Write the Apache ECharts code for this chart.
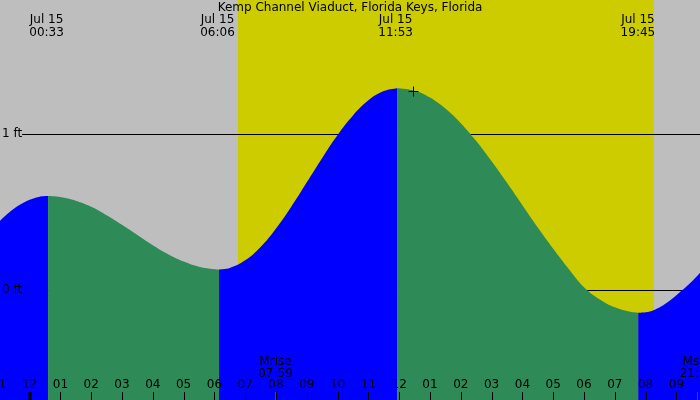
<!DOCTYPE html>
<html><head><meta charset="utf-8">
<script src="https://cdn.jsdelivr.net/npm/echarts@6/dist/echarts.min.js"></script>
<style>html,body{margin:0;padding:0;background:#BEBEBE}#c{width:700px;height:400px}</style>
</head><body><div id="c"></div>
<script>
// ---- data ----
const chartTitle = 'Kemp Channel Viaduct, Florida Keys, Florida';
const dateLabel = 'Jul 15';
const tideEventTimes = ['00:33', '06:06', '11:53', '19:45'];
const tideHours = [-0.961, -0.5, 0, 0.3, 0.6, 1, 1.5, 2, 2.5, 3, 3.5, 4, 4.5, 5, 5.5, 6, 6.15,
  6.5, 7, 7.5, 8, 8.5, 9, 9.5, 10, 10.5, 11, 11.5, 11.93,
  12.5, 13, 13.5, 14, 14.5, 15, 15.5, 16, 16.5, 17, 17.5, 18, 18.5, 19, 19.5, 19.76,
  20, 20.5, 21, 21.5, 21.766];
const tideFeet = [0.440, 0.519, 0.575, 0.594, 0.599, 0.593, 0.569, 0.530, 0.476, 0.415, 0.349, 0.284, 0.226, 0.179, 0.146, 0.130, 0.129,
  0.138, 0.187, 0.273, 0.392, 0.533, 0.688, 0.844, 0.991, 1.116, 1.213, 1.272, 1.291,
  1.275, 1.231, 1.160, 1.066, 0.952, 0.823, 0.684, 0.541, 0.398, 0.262, 0.134, 0.015, -0.062, -0.114, -0.143, -0.149,
  -0.146, -0.108, -0.036, 0.051, 0.107];
const hourTicks = [-1, 0, 1, 2, 3, 4, 5, 6, 7, 8, 9, 10, 11, 12, 13, 14, 15, 16, 17, 18, 19, 20, 21];
const hourLabels = ['11', '12', '01', '02', '03', '04', '05', '06', '07', '08', '09', '10', '11',
  '12', '01', '02', '03', '04', '05', '06', '07', '08', '09'];
const footLevels = [0, 1];
const footLabels = ['0 ft', '1 ft'];
const sunTimes = ['06:46', '20:16'];
const moonLabels = ['Mrise', 'Mset'];
const moonTimes = ['07:59', '21:40'];
const nowMarker = [12.46, 1.275];

// ---- helpers ----
const X_MIN = -0.961, X_MAX = 21.766, Y_MIN = -0.708, Y_MAX = 1.856;
const FONT = '"DejaVu Sans"';
const toH = s => { const p = s.split(':'); return +p[0] + (+p[1]) / 60; };
const crisp = v => Math.round(v) + 0.5;

// split tide curve into rising / falling segments
const segs = [];
let cur = [[tideHours[0], tideFeet[0]]], dir = Math.sign(tideFeet[1] - tideFeet[0]);
for (let i = 1; i < tideHours.length; i++) {
  const d = Math.sign(tideFeet[i] - tideFeet[i - 1]);
  if (d !== dir && d !== 0) {
    segs.push({ dir, pts: cur });
    cur = [[tideHours[i - 1], tideFeet[i - 1]]];
    dir = d;
  }
  cur.push([tideHours[i], tideFeet[i]]);
}
segs.push({ dir, pts: cur });

const series = [];
// daylight
series.push({
  type: 'custom', z: 0, silent: true,
  data: [[toH(sunTimes[0]), toH(sunTimes[1])]],
  renderItem: (p, api) => {
    const cs = p.coordSys;
    const x0 = api.coord([api.value(0), 0])[0], x1 = api.coord([api.value(1), 0])[0];
    return { type: 'rect', shape: { x: x0, y: cs.y, width: x1 - x0, height: cs.height }, style: { fill: '#CCCC00' } };
  }
});
// foot level lines (behind the water)
series.push({
  type: 'custom', z: 1, silent: true,
  data: footLevels.map(v => [X_MIN, v]),
  renderItem: (p, api) => {
    const cs = p.coordSys;
    const y = crisp(api.coord([X_MIN, api.value(1)])[1]);
    return { type: 'line', shape: { x1: cs.x + 22, y1: y, x2: cs.x + cs.width, y2: y }, style: { stroke: '#000', lineWidth: 1 } };
  }
});
// water
segs.forEach(s => series.push({
  type: 'line', z: 2, silent: true, data: s.pts, showSymbol: false, symbol: 'none',
  smooth: 0.4,
  lineStyle: { width: 0, opacity: 0 },
  areaStyle: { color: s.dir > 0 ? '#0000FF' : '#2E8B57', opacity: 1, origin: 'start' }
}));
// foot labels
series.push({
  type: 'custom', z: 3, silent: true,
  data: footLevels.map((v, i) => [X_MIN, v, i]),
  renderItem: (p, api) => {
    const cs = p.coordSys;
    const y = api.coord([X_MIN, api.value(1)])[1];
    return { type: 'text', style: { x: cs.x + 2, y: y, text: footLabels[api.value(2)], fill: '#000', font: '12px ' + FONT, align: 'left', verticalAlign: 'middle' } };
  }
});
// hour ticks + labels
series.push({
  type: 'custom', z: 3, silent: true,
  data: hourTicks.map((h, i) => [h, 0, i]),
  renderItem: (p, api) => {
    const cs = p.coordSys, bot = cs.y + cs.height;
    const h = api.value(0);
    const xr = api.coord([h, 0])[0];
    const midnight = ((h % 24) + 24) % 24 === 0;
    const x = midnight ? Math.round(xr) : crisp(xr);
    return { type: 'group', children: [
      { type: 'text', style: { x: xr, y: bot - 15, text: hourLabels[api.value(2)], fill: '#000', font: '12px ' + FONT, align: 'center', verticalAlign: 'middle' } },
      { type: 'line', shape: { x1: x, y1: bot - 8, x2: x, y2: bot }, style: { stroke: '#000', lineWidth: midnight ? 3 : 1 } }
    ] };
  }
});
// moon events
series.push({
  type: 'custom', z: 4, silent: true,
  data: moonTimes.map((t, i) => [toH(t), 0, i]),
  renderItem: (p, api) => {
    const cs = p.coordSys, bot = cs.y + cs.height;
    const xr = api.coord([api.value(0), 0])[0], i = api.value(2);
    return { type: 'group', children: [
      { type: 'text', style: { x: xr, y: bot - 32.5, text: moonLabels[i] + '\n' + moonTimes[i], fill: '#000', font: '12px ' + FONT, lineHeight: 12, align: 'center', verticalAlign: 'middle' } },
      { type: 'line', shape: { x1: crisp(xr), y1: bot - 8, x2: crisp(xr), y2: bot }, style: { stroke: '#FF0000', lineWidth: 1 } }
    ] };
  }
});
// tide event labels at top
series.push({
  type: 'custom', z: 4, silent: true,
  data: tideEventTimes.map((t, i) => [toH(t), 0, i]),
  renderItem: (p, api) => {
    const cs = p.coordSys;
    const xr = api.coord([api.value(0), 0])[0];
    return { type: 'text', style: { x: xr, y: cs.y + 26.5, text: dateLabel + '\n' + tideEventTimes[api.value(2)], fill: '#000', font: '12px ' + FONT, lineHeight: 13, align: 'center', verticalAlign: 'middle' } };
  }
});
// current-time marker
series.push({
  type: 'custom', z: 4, silent: true,
  data: [nowMarker],
  renderItem: (p, api) => {
    const c = api.coord([api.value(0), api.value(1)]);
    const x = crisp(c[0]), y = crisp(c[1]);
    return { type: 'group', children: [
      { type: 'line', shape: { x1: x - 5, y1: y, x2: x + 5, y2: y }, style: { stroke: '#000', lineWidth: 1 } },
      { type: 'line', shape: { x1: x, y1: y - 5, x2: x, y2: y + 5 }, style: { stroke: '#000', lineWidth: 1 } }
    ] };
  }
});

const chart = echarts.init(document.getElementById('c'), null, { renderer: 'canvas' });
chart.setOption({
  animation: false,
  backgroundColor: '#BEBEBE',
  title: { text: chartTitle, left: 'center', top: 2, padding: 0,
    textStyle: { fontSize: 12, fontWeight: 'normal', fontFamily: FONT, color: '#000' } },
  grid: { left: 0, right: 0, top: 0, bottom: 0 },
  xAxis: { type: 'value', min: X_MIN, max: X_MAX, show: false },
  yAxis: { type: 'value', min: Y_MIN, max: Y_MAX, show: false },
  series: series
});
</script>
</body></html>
